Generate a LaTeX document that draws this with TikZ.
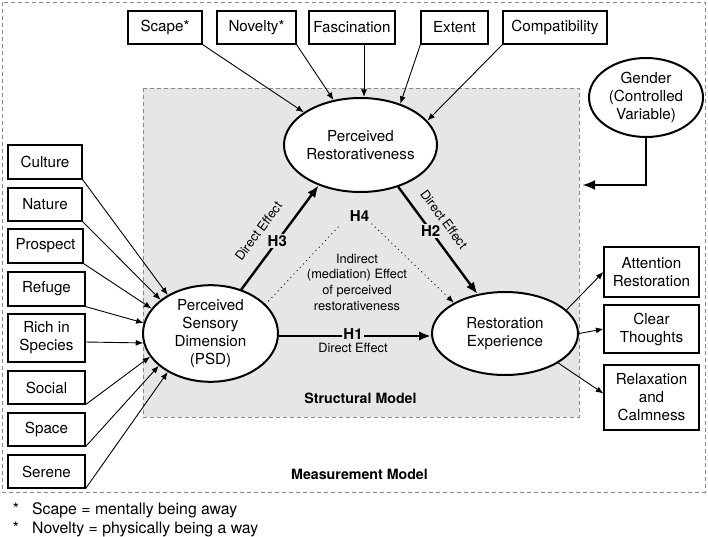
\documentclass[tikz,border=0pt]{standalone}
\usepackage{fontspec}
\setmainfont{TeX Gyre Heros}
\usetikzlibrary{arrows.meta,shapes.geometric}
\definecolor{structgray}{HTML}{E6E6E6}
\definecolor{dashgray}{HTML}{8A8A8A}
\begin{document}
\begin{tikzpicture}[x=1pt,y=-1pt,
  box/.style={draw,line width=1.2pt,fill=white,inner sep=0pt,align=center,font=\fontsize{15.2}{18}\selectfont},
  latent/.style={ellipse,draw,line width=2pt,fill=white,inner sep=0pt,align=center,font=\fontsize{15.2}{18}\selectfont},
  thinarr/.style={-{Latex[length=7.5pt,width=6pt]},line width=0.9pt},
  thickarr/.style={-{Latex[length=12pt,width=9.5pt]},line width=2.4pt},
  dotline/.style={line width=1.3pt,dash pattern=on 0pt off 4.6pt,line cap=round},
  dotarr/.style={dotline,-{Latex[length=7.5pt,width=6pt]}},
  hlabel/.style={font=\bfseries\fontsize{15}{16}\selectfont,fill=structgray,inner sep=1.5pt},
  smalltext/.style={font=\fontsize{12.8}{15.7}\selectfont,inner sep=0pt,align=center},
  boldlabel/.style={font=\bfseries\fontsize{14.2}{16}\selectfont,inner sep=0pt},
  foot/.style={font=\fontsize{15.8}{19}\selectfont,inner sep=0pt,anchor=base west},
  dashbox/.style={draw=dashgray,line width=0.9pt,dash pattern=on 4pt off 3pt}
]
\useasboundingbox (0,0) rectangle (708,537);
% frames
\draw[dashbox] (2,2) rectangle (705,492);
\draw[dashbox,fill=structgray] (143,88) rectangle (579,417);
\node[boldlabel] (struct) at (360.5,398.5) {Structural Model};
\node[boldlabel] (meas) at (359.5,474) {Measurement Model};

% top indicator boxes
\node[box,minimum width=74pt,minimum height=33pt] (scape) at (165,27.5) {Scape*};
\node[box,minimum width=79pt,minimum height=33pt] (novelty) at (256.5,27.5) {Novelty*};
\node[box,minimum width=86pt,minimum height=33pt] (fasc) at (352,27.5) {Fascination};
\node[box,minimum width=67pt,minimum height=33pt] (extent) at (454.5,27.5) {Extent};
\node[box,minimum width=104pt,minimum height=33pt] (compat) at (555,27.5) {Compatibility};

% left indicator boxes
\node[box,minimum width=74pt,minimum height=34pt] (culture) at (45,162) {Culture};
\node[box,minimum width=74pt,minimum height=33pt] (nature) at (45,204.5) {Nature};
\node[box,minimum width=75pt,minimum height=34pt] (prospect) at (45.5,246) {Prospect};
\node[box,minimum width=77pt,minimum height=34pt] (refuge) at (46.5,289) {Refuge};
\node[box,minimum width=77pt,minimum height=48pt] (rich) at (46.5,338) {Rich in\\Species};
\node[box,minimum width=77pt,minimum height=33pt] (social) at (46.5,387.5) {Social};
\node[box,minimum width=77pt,minimum height=33pt] (space) at (46.5,429.5) {Space};
\node[box,minimum width=77pt,minimum height=33pt] (serene) at (46.5,471.5) {Serene};

% right indicator boxes
\node[box,minimum width=95pt,minimum height=50pt] (attn) at (651.5,272) {Attention\\Restoration};
\node[box,minimum width=95pt,minimum height=48pt] (clear) at (651.5,329) {Clear\\Thoughts};
\node[box,minimum width=95pt,minimum height=65pt] (relax) at (651.5,397.5) {Relaxation\\and\\Calmness};

% latent variables
\node[latent,minimum width=135pt,minimum height=94pt] (pr) at (360.5,145) {Perceived\\Restorativeness};
\node[latent,minimum width=135pt,minimum height=93pt] (psd) at (210.5,333.5) {Perceived\\Sensory\\Dimension\\(PSD)};
\node[latent,minimum width=146pt,minimum height=83pt] (re) at (505,333.5) {Restoration\\Experience};
\node[latent,minimum width=114pt,minimum height=79pt] (gender) at (646,97.5) {Gender\\(Controlled\\Variable)};

% measurement arrows (top)
\draw[thinarr] (scape.south east) -- (pr.150);
\draw[thinarr] (novelty.south east) -- (pr.121);
\draw[thinarr] ([xshift=12pt]fasc.south) -- ([xshift=12pt]fasc.south |- pr.north);
\draw[thinarr] (extent.south west) -- (pr.46);
\draw[thinarr] (compat.south west) -- (pr.20);

% measurement arrows (left)
\draw[thinarr] (culture.south east) -- (psd.138);
\draw[thinarr] (nature.south east) -- (psd.146);
\draw[thinarr] (prospect.south east) -- (psd.157);
\draw[thinarr] (refuge.south east) -- (psd.171);
\draw[thinarr] ([yshift=-4pt]rich.east) -- (psd.188);
\draw[thinarr] (social.south east) -- (psd.201);
\draw[thinarr] (space.south east) -- (psd.212);
\draw[thinarr] (serene.south east) -- (psd.222);

% measurement arrows (right)
\draw[thinarr] (re.21) -- (attn.west);
\draw[thinarr] (re.east) -- (clear.west);
\draw[thinarr] (re.-29) -- ([yshift=4pt]relax.west);

% structural paths
\draw[thickarr] (psd.east |- 0,336) -- (re.west |- 0,336);
\node[hlabel] (h1) at (353,334) {H1};
\node[smalltext] (h1d) at (353,347.5) {Direct Effect};

\draw[thickarr] (psd.55) -- node[hlabel,pos=0.465] (h3) {H3}
  node[smalltext,sloped,above=15pt,pos=0.44] (h3d) {Direct Effect} (pr.224);
\draw[thickarr] (pr.-48) -- node[hlabel,pos=0.41] (h2) {H2}
  node[smalltext,sloped,above=11.5pt,pos=0.40] (h2d) {Direct Effect} (re.125);

\node[hlabel,fill=none] (h4) at (359.5,216) {H4};
\coordinate (h4l) at (341,224);
\coordinate (h4r) at (372,224);
\draw[dotline] (psd.28) -- (h4l);
\draw[dotarr] (h4r) -- (re.149);
\node[smalltext] (indirect) at (357,282) {Indirect\\(mediation) Effect\\of perceived\\restorativeness};

% controlled variable
\coordinate (gtip) at (582,185);
\draw[-{Latex[length=13pt,width=10pt]},line width=2.6pt] (gender.south) |- (gtip);

% footnotes
\node[foot,anchor=base] (s1) at (16,514) {*};
\node[foot] (fn1) at (32,514) {Scape = mentally being away};
\node[foot,anchor=base] (s2) at (16,533) {*};
\node[foot] (fn2) at (32,533) {Novelty = physically being a way};
\end{tikzpicture}
\end{document}
